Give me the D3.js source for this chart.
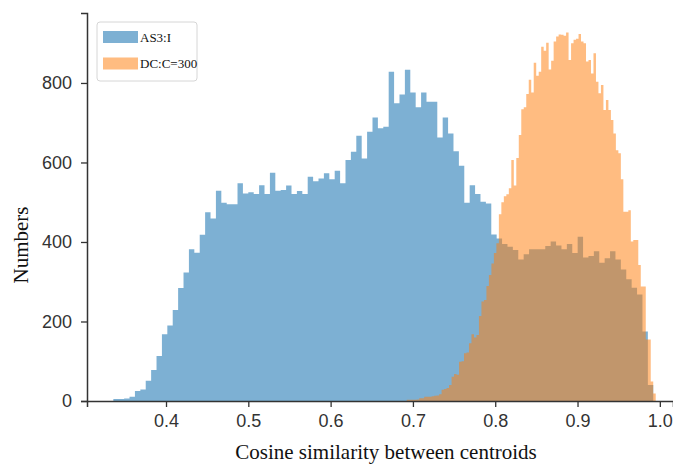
<!DOCTYPE html>
<html><head><meta charset="utf-8">
<script src="https://cdn.jsdelivr.net/npm/d3@7"></script>
<style>body{margin:0;background:#fff}svg{display:block}</style>
</head><body>
<script>
const seriesNames = ["AS3:I", "DC:C=300"];
const blueRange = [0.336, 0.992];
const blueCounts = [5,5,6,11,25,29,51,78,113,168,190,229,284,323,382,373,418,475,459,529,
  499,495,495,548,522,525,521,543,521,574,529,531,542,521,528,521,564,553,560,573,
  558,579,548,606,627,667,610,677,713,686,690,828,749,771,833,776,739,776,753,753,
  663,713,673,628,592,499,543,521,501,497,419,409,395,388,380,356,369,382,382,382,
  390,401,391,382,395,372,413,361,365,377,348,359,377,356,331,306,285,268,175,40];
const orangeRange = [0.6925, 0.995];
const orangeCounts = [3,3,3,3,4,7,7,11,11,11,12,13,14,17,28,30,33,40,61,68,
  66,99,100,120,122,145,168,160,166,214,250,254,289,317,346,372,397,470,500,515,
  520,535,606,542,611,669,734,739,772,808,776,851,818,828,891,881,901,834,856,904,
  917,922,921,919,927,858,900,909,911,923,904,900,854,858,824,875,803,774,795,732,
  757,732,707,673,631,623,558,476,476,480,401,405,405,342,288,288,155,155,49,19];
const xTicks = [0.4,0.5,0.6,0.7,0.8,0.9,1.0];
const yTicks = [0,200,400,600,800];

const W = 673, H = 466;
const svg = d3.select("body").append("svg").attr("width", W).attr("height", H);
const x = d3.scaleLinear().domain([0.304, 1.016]).range([87, 673]);
const y = d3.scaleLinear().domain([0, 976]).range([401, 13]);

function binPoints(counts, range) {
  const w = (range[1] - range[0]) / counts.length;
  const pts = counts.map((c, i) => ({x0: range[0] + i * w, c}));
  pts.push({x0: range[1], c: counts[counts.length - 1]});
  return pts;
}
const area = d3.area().curve(d3.curveStepAfter)
  .x(d => x(d.x0)).y0(y(0)).y1(d => y(d.c));

const colors = ["#1f77b4", "#ff7f0e"];
const alphas = [0.58, 0.52];
svg.append("path").attr("d", area(binPoints(blueCounts, blueRange)))
  .attr("fill", colors[0]).attr("fill-opacity", alphas[0]);
svg.append("path").attr("d", area(binPoints(orangeCounts, orangeRange)))
  .attr("fill", colors[1]).attr("fill-opacity", alphas[1]);

const axCol = "#333";
const gx = svg.append("g").attr("transform", `translate(0,${y(0)})`)
  .call(d3.axisBottom(x).tickValues(xTicks).tickFormat(d3.format(".1f")).tickSizeOuter(0).tickSize(6).tickPadding(7));
const gy = svg.append("g").attr("transform", `translate(${x.range()[0]},0)`)
  .call(d3.axisLeft(y).tickValues(yTicks).tickSizeOuter(0).tickSize(6).tickPadding(9));
[gx, gy].forEach(g => {
  g.select(".domain").attr("stroke", axCol).attr("stroke-width", 1.5);
  g.selectAll(".tick line").attr("stroke", axCol).attr("stroke-width", 1.3);
  g.selectAll(".tick text").attr("fill", "#333")
    .style("font-family", "'Liberation Sans', Arial, sans-serif").style("font-size", "18px");
});

svg.append("text").attr("x", 386).attr("y", 459).attr("text-anchor", "middle")
  .style("font-family", "'Liberation Serif', 'Times New Roman', serif").style("font-size", "21px")
  .attr("fill", "#111").text("Cosine similarity between centroids");
svg.append("text").attr("transform", "translate(28,245) rotate(-90)").attr("text-anchor", "middle")
  .style("font-family", "'Liberation Serif', 'Times New Roman', serif").style("font-size", "21px")
  .attr("fill", "#111").text("Numbers");

// legend
const lg = svg.append("g");
lg.append("rect").attr("x", 97).attr("y", 22).attr("width", 100).attr("height", 59)
  .attr("rx", 3).attr("fill", "#fff").attr("fill-opacity", 0.8).attr("stroke", "#d6d6d6").attr("stroke-width", 1);
seriesNames.forEach((n, i) => {
  const yy = 31 + i * 26.5;
  lg.append("rect").attr("x", 103).attr("y", yy).attr("width", 35).attr("height", 12)
    .attr("fill", colors[i]).attr("fill-opacity", alphas[i]);
  lg.append("text").attr("x", 140).attr("y", yy + 10.5)
    .style("font-family", "'Liberation Serif', 'Times New Roman', serif").style("font-size", "13px")
    .attr("fill", "#111").text(n);
});
</script>
</body></html>
